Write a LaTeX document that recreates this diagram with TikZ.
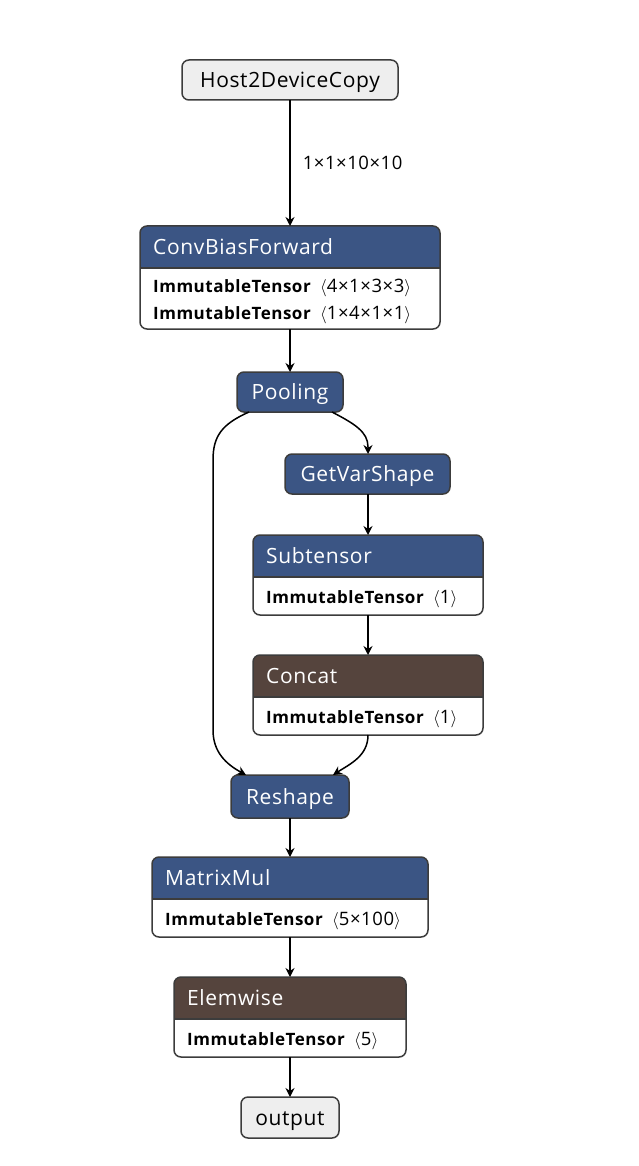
\documentclass[tikz,border=0pt]{standalone}
\usepackage{fontspec}
\setmainfont{Open Sans}[LetterSpace=3]
\usetikzlibrary{arrows.meta}
\definecolor{hblue}{RGB}{59,85,132}
\definecolor{hbrown}{RGB}{85,68,61}
\definecolor{bord}{RGB}{60,60,60}
\definecolor{lgray}{RGB}{238,238,238}
\tikzset{
  plainbox/.style={draw=bord, line width=1.5pt, rounded corners=7pt, inner sep=0pt, outer sep=0pt,
    anchor=north west, font=\fontsize{21}{24}\selectfont, text height=15pt, text depth=0pt},
  graybox/.style={plainbox, fill=lgray, text=black},
  bluebox/.style={plainbox, fill=hblue, text=white},
  holder/.style={draw=none, inner sep=0pt, outer sep=0pt, anchor=north west},
  titletext/.style={anchor=west, inner sep=0pt, text=white, font=\fontsize{21}{24}\selectfont,
    text height=15pt, text depth=0pt},
  rowtext/.style={anchor=west, inner sep=0pt, text=black, font=\fontsize{17}{20}\selectfont,
    text height=12pt, text depth=0pt},
  edge/.style={draw=black, line width=1.5pt, -{Stealth[length=9pt,width=9pt,inset=3pt]}},
  lbltext/.style={font=\fontsize{18.5}{20}\selectfont, text=black, inner sep=0pt,
    text height=13pt, text depth=0pt}
}
\newcommand\shp[1]{\hspace{9pt}{\fontsize{18.5}{20}\selectfont$\langle$#1$\rangle$}}
\newcommand\compbox[3]{% name, header height, colour
  \begin{scope}
    \clip[rounded corners=7pt] (#1.north west) rectangle (#1.south east);
    \fill[white] (#1.north west) rectangle (#1.south east);
    \fill[#3] (#1.north west) rectangle ([yshift=-#2pt]#1.north east);
  \end{scope}
  \draw[bord, line width=1.5pt] ([yshift=-#2pt]#1.north west) -- ([yshift=-#2pt]#1.north east);
  \draw[bord, line width=1.5pt, rounded corners=7pt] (#1.north west) rectangle (#1.south east);
}
\begin{document}
\begin{tikzpicture}[x=1pt,y=-1pt]
\fill[white] (0,0) rectangle (638,1166);
\useasboundingbox (0,0) rectangle (638,1166);

% simple nodes
\node[graybox, minimum width=216pt, minimum height=40pt] (host) at (182,60) {Host2DeviceCopy};
\node[bluebox, minimum width=106pt, minimum height=40pt] (pool) at (237,372) {Pooling};
\node[bluebox, minimum width=165pt, minimum height=40pt] (gvs) at (285,454) {GetVarShape};
\node[bluebox, minimum width=118pt, minimum height=43pt] (resh) at (231,775) {Reshape};
\node[graybox, minimum width=98pt, minimum height=41pt] (out) at (241,1097) {output};

% composite nodes
\node[holder, minimum width=300pt, minimum height=103pt] (conv) at (140,226) {};
\compbox{conv}{42}{hblue}
\node[titletext] (convt) at (153,247) {ConvBiasForward};
\node[rowtext] (convr1) at (153,286) {\textbf{ImmutableTensor}\shp{4×1×3×3}};
\node[rowtext] (convr2) at (153,313) {\textbf{ImmutableTensor}\shp{1×4×1×1}};

\node[holder, minimum width=230pt, minimum height=80pt] (sub) at (253,535) {};
\compbox{sub}{42}{hblue}
\node[titletext] (subt) at (266,556) {Subtensor};
\node[rowtext] (subr) at (266,597) {\textbf{ImmutableTensor}\shp{1}};

\node[holder, minimum width=230pt, minimum height=80pt] (cat) at (253,655) {};
\compbox{cat}{42}{hbrown}
\node[titletext] (catt) at (266,676) {Concat};
\node[rowtext] (catr) at (266,717) {\textbf{ImmutableTensor}\shp{1}};

\node[holder, minimum width=276pt, minimum height=80pt] (mm) at (152,857) {};
\compbox{mm}{42}{hblue}
\node[titletext] (mmt) at (165,878) {MatrixMul};
\node[rowtext] (mmr) at (165,919) {\textbf{ImmutableTensor}\shp{5×100}};

\node[holder, minimum width=232pt, minimum height=80pt] (elem) at (174,977) {};
\compbox{elem}{42}{hbrown}
\node[titletext] (elemt) at (187,998) {Elemwise};
\node[rowtext] (elemr) at (187,1039) {\textbf{ImmutableTensor}\shp{5}};

% connectors
\draw[edge] (host.south) -- node[lbltext, right=12pt] (lbl) {1×1×10×10} (host.south |- conv.north);
\draw[edge] (conv.south -| pool.south) -- (pool.north);
\draw[edge] ([xshift=-11pt]pool.south east) .. controls (355,424) and (368,432) .. (368,447) -- (gvs.north -| 368,0);
\draw[edge] ([xshift=12pt]pool.south west) .. controls (222,424) and (213,436) .. (213,460)
   -- (213,730) .. controls (213,752) and (226,764) .. ([xshift=15pt]resh.north west);
\draw[edge] (gvs.south -| 368,0) -- (sub.north -| 368,0);
\draw[edge] (sub.south -| 368,0) -- (cat.north -| 368,0);
\draw[edge] (cat.south -| 368,0) .. controls (368,756) and (350,764) .. ([xshift=-16pt]resh.north east);
\draw[edge] (resh.south) -- (resh.south |- mm.north);
\draw[edge] (mm.south -| resh.south) -- (resh.south |- elem.north);
\draw[edge] (elem.south -| out.north) -- (out.north);
\end{tikzpicture}
\end{document}
